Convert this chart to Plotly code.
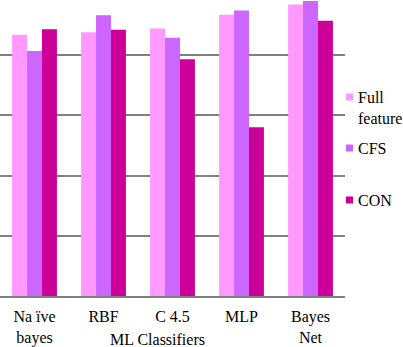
import plotly.graph_objects as go

categories = ["Na ïve<br>bayes", "RBF", "C 4.5", "MLP", "Bayes<br>Net"]
full_feature = [86.8, 87.6, 88.8, 93.4, 96.8]
cfs = [81.4, 93.2, 85.8, 94.8, 98.0]
con = [88.6, 88.4, 78.6, 56.0, 91.4]
series_names = ["Full<br>feature", "CFS", "CON"]
colors = ["#FF99FF", "#CC66FF", "#CC0099"]

W, H = 403, 347
ml, mr, mt, mb = 0, 58, 0, 51
pw = W - ml - mr
ph = H - mt - mb

fig = go.Figure()
for name, vals, col in zip(series_names, [full_feature, cfs, con], colors):
    fig.add_trace(go.Bar(x=categories, y=vals, name=name, marker_color=col,
                         marker_line_width=0, showlegend=False))

font = dict(family="Times New Roman, Liberation Serif, serif", size=16, color="#000000")

fig.update_layout(
    width=W, height=H,
    margin=dict(l=ml, r=mr, t=mt, b=mb),
    paper_bgcolor="white", plot_bgcolor="white",
    barmode="group", bargap=0.35, bargroupgap=0,
    font=font,
    xaxis=dict(showline=True, linecolor="#808080", linewidth=1.5,
               showgrid=False, ticks="", tickfont=font, ticklabelstandoff=5,
               fixedrange=True),
    yaxis=dict(range=[0, 98.3], dtick=20, showgrid=True, gridcolor="#808080",
               gridwidth=1.5, showticklabels=False, zeroline=False, fixedrange=True),
)

# axis title
fig.add_annotation(text="ML Classifiers", xref="paper", yref="paper",
                   x=157 / pw, y=-(339 - ph) / ph, xanchor="center", yanchor="middle",
                   showarrow=False, font=font)

# legend (manual)
leg_y = [97, 148, 200]
leg_text = ["Full<br>feature", "CFS", "CON"]
for yy, txt, col in zip(leg_y, leg_text, colors):
    fig.add_shape(type="rect", xref="paper", yref="paper",
                  x0=346 / pw, x1=353 / pw,
                  y0=(ph - (yy + 3.5)) / ph, y1=(ph - (yy - 3.5)) / ph,
                  fillcolor=col, line_width=0)
    fig.add_annotation(text=txt, xref="paper", yref="paper",
                       x=356 / pw, y=(ph - (yy - 10)) / ph,
                       xanchor="left", yanchor="top", align="left",
                       showarrow=False, font=font)

fig.write_html("out.html", config={"displayModeBar": False},
               post_script="document.body.style.margin='0';document.body.style.padding='0';")
